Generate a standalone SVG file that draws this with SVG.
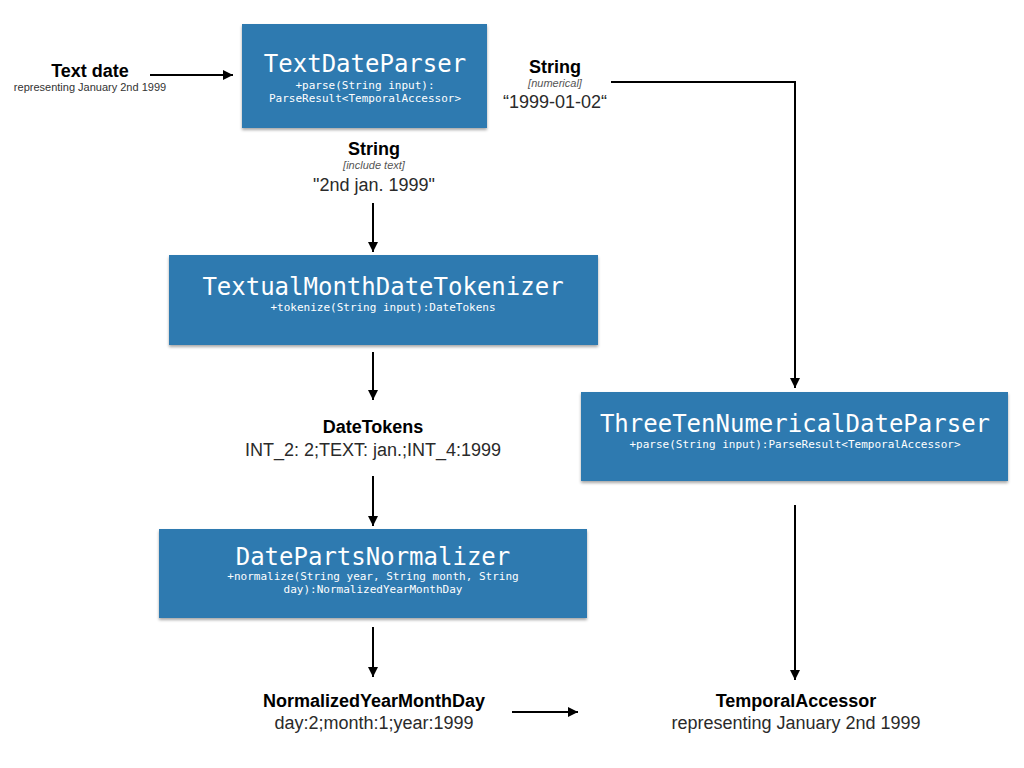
<svg xmlns="http://www.w3.org/2000/svg" width="1024" height="768" viewBox="0 0 1024 768">
<defs>
<marker id="ah" viewBox="0 0 10 10" refX="10" refY="5" markerWidth="10" markerHeight="10" markerUnits="userSpaceOnUse" orient="auto">
<path d="M0,0 L10,5 L0,10 z" fill="#000"/>
</marker>
<filter id="sh" x="-5%" y="-10%" width="110%" height="125%">
<feDropShadow dx="0" dy="2" stdDeviation="1.5" flood-color="#000" flood-opacity="0.35"/>
</filter>
<style>
.box{fill:#2f7ab0;filter:url(#sh)}
.title{font-family:"DejaVu Sans Mono",monospace;font-size:24px;fill:#fff;text-anchor:middle}
.sub{font-family:"DejaVu Sans Mono",monospace;font-size:11px;fill:#fff;text-anchor:middle}
.hd{font-family:"Liberation Sans",Arial,sans-serif;font-size:18px;font-weight:bold;fill:#000;text-anchor:middle}
.note{font-family:"Liberation Sans",Arial,sans-serif;font-size:11px;font-style:italic;fill:#555;text-anchor:middle}
.val{font-family:"Liberation Sans",Arial,sans-serif;font-size:18px;fill:#2a2a2a;text-anchor:middle}
.sm{font-family:"Liberation Sans",Arial,sans-serif;font-size:11px;fill:#333;text-anchor:middle}
.ln{stroke:#000;stroke-width:2;fill:none;marker-end:url(#ah)}
</style>
</defs>
<rect width="1024" height="768" fill="#fff"/>

<g id="textDateParser">
<rect class="box" x="242" y="24" width="245" height="104"/>
<text class="title" x="365" y="72">TextDateParser</text>
<text class="sub" x="365" y="89">+parse(String input):</text>
<text class="sub" x="365" y="102">ParseResult&lt;TemporalAccessor&gt;</text>
</g>

<g id="textualMonthDateTokenizer">
<rect class="box" x="169" y="255" width="429" height="90"/>
<text class="title" x="383" y="295">TextualMonthDateTokenizer</text>
<text class="sub" x="383" y="311">+tokenize(String input):DateTokens</text>
</g>

<g id="threeTenNumericalDateParser">
<rect class="box" x="581" y="392" width="427" height="89"/>
<text class="title" x="795" y="432">ThreeTenNumericalDateParser</text>
<text class="sub" x="795" y="448">+parse(String input):ParseResult&lt;TemporalAccessor&gt;</text>
</g>

<g id="datePartsNormalizer">
<rect class="box" x="159" y="529" width="428" height="89"/>
<text class="title" x="373" y="565">DatePartsNormalizer</text>
<text class="sub" x="373" y="580">+normalize(String year, String month, String</text>
<text class="sub" x="373" y="593">day):NormalizedYearMonthDay</text>
</g>

<g id="textDate">
<text class="hd" x="90" y="77">Text date</text>
<text class="sm" x="90" y="91">representing January 2nd 1999</text>
</g>

<g id="stringNumerical">
<text class="hd" x="555" y="73">String</text>
<text class="note" x="555" y="87">[numerical]</text>
<text class="val" x="555" y="108">“1999-01-02“</text>
</g>

<g id="stringText">
<text class="hd" x="374" y="155">String</text>
<text class="note" x="374" y="169">[include text]</text>
<text class="val" x="374" y="191">"2nd jan. 1999"</text>
</g>

<g id="dateTokens">
<text class="hd" x="373" y="433">DateTokens</text>
<text class="val" x="373" y="456">INT_2: 2;TEXT: jan.;INT_4:1999</text>
</g>

<g id="normalizedYearMonthDay">
<text class="hd" x="374" y="707">NormalizedYearMonthDay</text>
<text class="val" x="374" y="729">day:2;month:1;year:1999</text>
</g>

<g id="temporalAccessor">
<text class="hd" x="796" y="707">TemporalAccessor</text>
<text class="val" x="796" y="729">representing January 2nd 1999</text>
</g>

<g id="connectors">
<path class="ln" d="M150,75 H233"/>
<path class="ln" d="M611,82 H795 V388"/>
<path class="ln" d="M373,203 V252"/>
<path class="ln" d="M373,352 V400"/>
<path class="ln" d="M373,476 V526"/>
<path class="ln" d="M373,627 V677"/>
<path class="ln" d="M512,712 H578"/>
<path class="ln" d="M795,505 V680"/>
</g>
</svg>
